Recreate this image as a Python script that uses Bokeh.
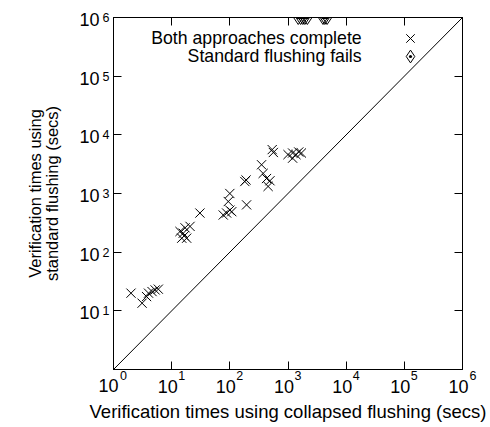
from bokeh.plotting import figure
from bokeh.models import (FixedTicker, LogAxis, Legend, LegendItem, Label, Range1d, LogScale)
from bokeh.embed import file_html
from bokeh.resources import INLINE

# --- data ---
both_x = [2.0, 3.1, 3.7, 4.0, 4.6, 5.2, 5.9,
          13.9, 14.9, 15.8, 16.5, 17.0, 18.1, 20.7, 30.6,
          77, 88, 100, 94, 100, 108,
          181, 190, 194,
          351, 374, 427, 455, 490, 535, 560,
          1000, 1200, 1370, 1530, 1200, 1700]
both_y = [20, 13.5, 17.5, 20, 21.3, 22.7, 23.4,
          225, 173, 210, 190, 260, 173, 275, 464,
          430, 465, 520, 730, 1000, 490,
          1600, 1700, 640,
          3090, 2200, 1800, 1320, 1650, 5600, 5000,
          4600, 4900, 4600, 5100, 4000, 4900]

fails_x = [1500, 1650, 1800, 1950, 2150, 4000, 4300, 4700]
fails_y = [1e6, 1e6, 1e6, 1e6, 1e6, 1e6, 1e6, 1e6]

diag = [1, 1e6]
ticks = [1, 10, 100, 1000, 10000, 100000, 1000000]
exponents = ["0", "1", "2", "3", "4", "5", "6"]

FONT = "Liberation Sans"
LO, HI = 1, 1e6
NB = "\u00a0"

p = figure(width=490, height=427, x_axis_type="log", y_axis_type="log",
           x_range=Range1d(LO, HI), y_range=Range1d(LO, HI),
           output_backend="svg", toolbar_location=None,
           min_border_left=113, min_border_right=28,
           min_border_top=17, min_border_bottom=58)
p.grid.visible = False
p.outline_line_color = "black"
p.outline_line_width = 1
p.background_fill_color = "white"
p.border_fill_color = "white"

# label-placement ranges: the base "10" and the exponent are set slightly apart from each tick
def shifted(decades):
    f = 10 ** decades
    return Range1d(LO * f, HI * f)

p.extra_x_ranges = {"xbase": shifted(0.0688), "xsup": shifted(-0.1719)}
p.extra_y_ranges = {"ybase": shifted(0.0341)}
p.extra_x_scales = {"xbase": LogScale(), "xsup": LogScale()}
p.extra_y_scales = {"ybase": LogScale()}

empty = {t: "" for t in ticks}

def style(ax, labels, size="1px", standoff=0, ticks_on=True, tick_list=ticks):
    ax.ticker = FixedTicker(ticks=tick_list, minor_ticks=[])
    ax.major_tick_in = 8 if ticks_on else 0
    ax.major_tick_out = 0
    ax.minor_tick_in = 0
    ax.minor_tick_out = 0
    ax.axis_line_color = "black" if ticks_on else None
    ax.major_tick_line_color = "black" if ticks_on else None
    ax.major_label_overrides = labels
    ax.major_label_text_font = FONT
    ax.major_label_text_font_size = size
    ax.major_label_text_color = "black"
    ax.major_label_standoff = standoff
    ax.axis_label_text_font = FONT
    ax.axis_label_text_font_style = "normal"
    ax.axis_label_text_color = "black"

# frame axes carrying the ticks
style(p.xaxis[0], empty)
style(p.yaxis[0], empty)
top = LogAxis()
right = LogAxis()
style(top, empty)
style(right, empty)
p.add_layout(top, "above")
p.add_layout(right, "right")

# x tick labels: exponent row, then the base "10" row
xsup = LogAxis(x_range_name="xsup")
style(xsup, {t: e for t, e in zip(ticks[:-1], exponents[:-1])}, "12.5px", 1,
      ticks_on=False, tick_list=ticks[:-1])
p.add_layout(xsup, "below")

xsup6 = LogAxis()  # exponent of the last tick, sharing the exponent row
style(xsup6, {ticks[-1]: NB * 6 + exponents[-1]}, "12.5px", -14,
      ticks_on=False, tick_list=ticks[-1:])
p.add_layout(xsup6, "below")

xbase = LogAxis(x_range_name="xbase")
style(xbase, {t: "10" for t in ticks[1:]}, "18px", -6, ticks_on=False, tick_list=ticks[1:])
p.add_layout(xbase, "below")

xbase0 = LogAxis()  # base of the first tick, sharing the base row
style(xbase0, {ticks[0]: "10" + NB * 2}, "18px", -20, ticks_on=False, tick_list=ticks[:1])
xbase0.axis_label = "Verification times using collapsed flushing (secs)"
xbase0.axis_label_text_font_size = "18.5px"
xbase0.axis_label_standoff = 2
p.add_layout(xbase0, "below")

# y tick labels (no label at 10^0)
ysup = LogAxis()
style(ysup, {t: e for t, e in zip(ticks[1:], exponents[1:])}, "12.5px", 4,
      ticks_on=False, tick_list=ticks[1:])
ysup.major_label_text_baseline = "bottom"
p.add_layout(ysup, "left")
ybase = LogAxis(y_range_name="ybase")
style(ybase, {t: "10" for t in ticks[1:]}, "18px", 0, ticks_on=False, tick_list=ticks[1:])
ybase.axis_label = "Verification times using\nstandard flushing (secs)"
ybase.axis_label_text_font_size = "16.5px"
ybase.axis_label_text_line_height = 0.95
ybase.axis_label_standoff = 15
p.add_layout(ybase, "left")

p.line(diag, diag, line_color="black", line_width=1)
r1 = p.scatter(both_x, both_y, marker="x", size=13, line_color="black", line_width=1)
r2 = p.scatter(fails_x, fails_y, marker="diamond_dot", size=14,
               fill_color=None, line_color="black", line_width=1)

leg1 = Legend(items=[LegendItem(label=" ", renderers=[r1])],
              location="top_right", border_line_color=None, background_fill_alpha=0,
              margin=6, padding=0, spacing=0, glyph_width=30, glyph_height=30,
              label_width=0, label_height=18, label_standoff=31, label_text_font_size="17px")
leg2 = Legend(items=[LegendItem(label=" ", renderers=[r2])],
              location="top_right", border_line_color=None, background_fill_alpha=0,
              margin=23, padding=0, spacing=0, glyph_width=32, glyph_height=32,
              label_width=0, label_height=18, label_standoff=13, label_text_font_size="17px")
p.add_layout(leg1)
p.add_layout(leg2)

for txt, yy in [("Both approaches complete", 4.54e5), ("Standard flushing fails", 2.24e5)]:
    p.add_layout(Label(x=18450, y=yy, text=txt, text_align="right", text_baseline="middle",
                       text_font=FONT, text_font_size="17.7px", text_color="black"))

open("out.html", "w").write(file_html(p, INLINE))
